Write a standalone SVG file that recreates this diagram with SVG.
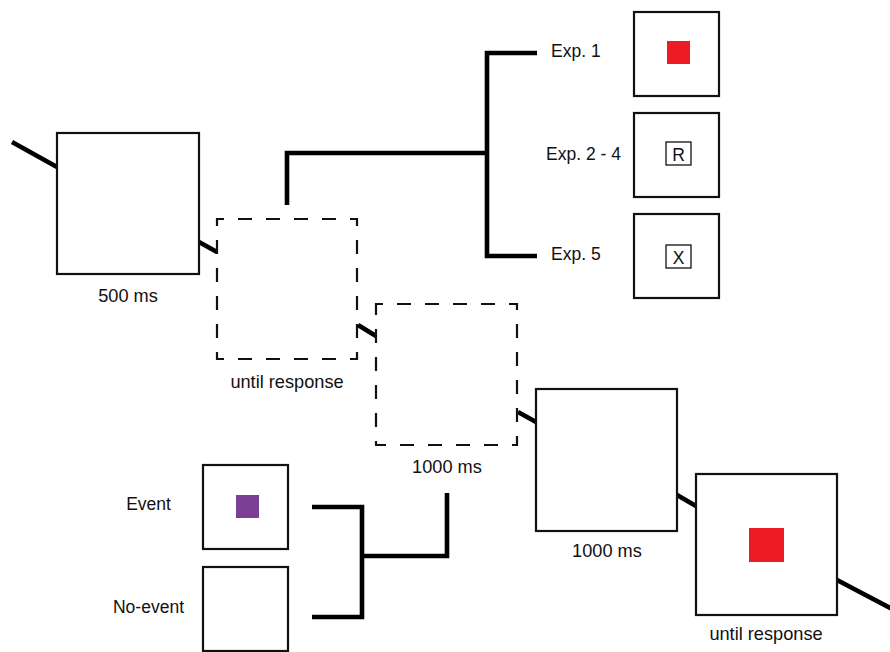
<svg xmlns="http://www.w3.org/2000/svg" width="890" height="652" viewBox="0 0 890 652">
  <style>
    .frame { fill: #fff; stroke: #111; stroke-width: 2.2; }
    .dashed { fill: #fff; stroke: #111; stroke-width: 2.2; stroke-dasharray: 14 14; stroke-dashoffset: 7; }
    .tag { fill: #fff; stroke: #111; stroke-width: 1.3; }
    .link { fill: none; stroke: #000; stroke-width: 4.6; stroke-linecap: butt; stroke-linejoin: miter; }
    .lbl { font-family: "Liberation Sans", Arial, sans-serif; font-size: 17.5px; fill: #111; }
    .dur { font-size: 18.2px; }
    .mid { text-anchor: middle; }
  </style>

  <!-- connectors -->
  <g id="connectors">
    <line class="link" x1="12" y1="142" x2="57" y2="167"/>
    <line class="link" x1="199" y1="242" x2="217" y2="252"/>
    <line class="link" x1="358" y1="325" x2="376" y2="336"/>
    <line class="link" x1="518" y1="412" x2="536" y2="422"/>
    <line class="link" x1="677" y1="495" x2="696" y2="506"/>
    <line class="link" x1="837" y1="580" x2="892" y2="609"/>
    <!-- branch to experiment variants -->
    <path class="link" d="M287 205 V153 H487"/>
    <path class="link" d="M537 53 H487 V256 H537"/>
    <!-- branch from event / no-event -->
    <path class="link" d="M312 507 H362 V617 H312"/>
    <path class="link" d="M362 556 H447 V493"/>
  </g>

  <!-- fixation -->
  <g id="fixation">
    <rect class="frame" x="57" y="133" width="142" height="141"/>
    <text class="lbl dur mid" x="128" y="302">500 ms</text>
  </g>

  <!-- response screen (dashed) -->
  <g id="response1">
    <rect class="dashed" x="217" y="219" width="140" height="140"/>
    <text class="lbl dur mid" x="287" y="388">until response</text>
  </g>

  <!-- blank interval (dashed) -->
  <g id="interval">
    <rect class="dashed" x="376" y="304" width="141" height="141"/>
    <text class="lbl dur mid" x="447" y="473">1000 ms</text>
  </g>

  <!-- blank screen -->
  <g id="blank">
    <rect class="frame" x="536" y="389" width="141" height="142"/>
    <text class="lbl dur mid" x="607" y="557">1000 ms</text>
  </g>

  <!-- target screen -->
  <g id="target">
    <rect class="frame" x="696" y="474" width="141" height="141"/>
    <rect x="749" y="528" width="35" height="34" fill="#ed1c24"/>
    <text class="lbl dur mid" x="766" y="640">until response</text>
  </g>

  <!-- experiment variants -->
  <g id="exp1">
    <text class="lbl" x="551" y="57">Exp. 1</text>
    <rect class="frame" x="634" y="12" width="85" height="84"/>
    <rect x="667" y="41" width="23" height="23" fill="#ed1c24"/>
  </g>
  <g id="exp2-4">
    <text class="lbl" x="546" y="160">Exp. 2 - 4</text>
    <rect class="frame" x="634" y="113" width="85" height="84"/>
    <rect class="tag" x="666" y="142" width="25" height="23"/>
    <text class="lbl mid" x="678.5" y="160.5">R</text>
  </g>
  <g id="exp5">
    <text class="lbl" x="551" y="260">Exp. 5</text>
    <rect class="frame" x="634" y="214" width="85" height="84"/>
    <rect class="tag" x="666" y="245" width="25" height="23"/>
    <text class="lbl mid" x="678.5" y="263.5">X</text>
  </g>

  <!-- event / no-event -->
  <g id="event">
    <text class="lbl mid" x="148.5" y="510">Event</text>
    <rect class="frame" x="203" y="465" width="85" height="84"/>
    <rect x="236" y="495" width="23" height="23" fill="#7b3f98"/>
  </g>
  <g id="no-event">
    <text class="lbl mid" x="148.5" y="613">No-event</text>
    <rect class="frame" x="203" y="567" width="85" height="84"/>
  </g>
</svg>
